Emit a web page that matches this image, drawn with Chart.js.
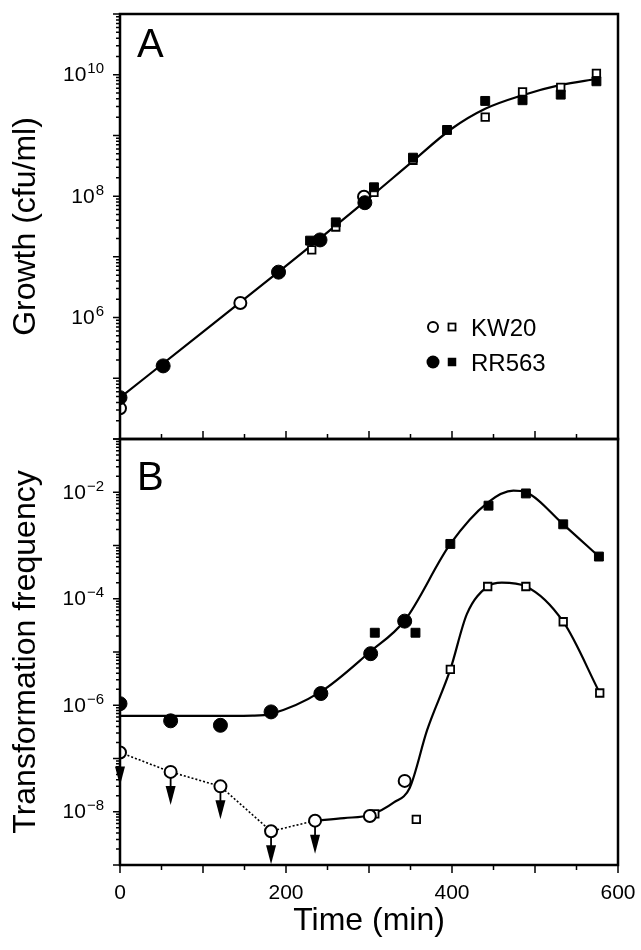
<!DOCTYPE html>
<html>
<head>
<meta charset="utf-8">
<script src="https://cdn.jsdelivr.net/npm/chart.js@4/dist/chart.umd.min.js"></script>
<style>
  body { margin: 0; background: #fff; }
  #wrap { position: relative; width: 641px; height: 950px; }
  canvas { position: absolute; left: 0; top: 0; }
</style>
</head>
<body>
<div id="wrap">
  <canvas id="panelB" width="641" height="950"></canvas>
  <canvas id="panelA" width="641" height="950"></canvas>
</div>
<script>
// ---- Panel A: growth (cfu/ml) vs time (min)
const growthKwCircleTime = [0, 145, 294];
const growthKwCircle = [3.2e4, 1.74e6, 9.8e7];
const growthRrCircleTime = [0, 52, 191, 241, 295];
const growthRrCircle = [4.8e4, 1.6e5, 5.6e6, 1.9e7, 7.8e7];
const growthKwSquareTime = [231, 260, 306, 353, 440, 485, 531, 574];
const growthKwSquare = [1.3e7, 3.1e7, 1.15e8, 3.9e8, 2.0e9, 5.2e9, 6.2e9, 1.05e10];
const growthRrSquareTime = [229, 260, 306, 353, 394, 440, 485, 531, 574];
const growthRrSquare = [1.85e7, 3.7e7, 1.4e8, 4.3e8, 1.23e9, 3.7e9, 3.8e9, 4.7e9, 7.8e9];
const growthFitTime = [0, 100, 200, 300, 350, 400, 440, 485, 531, 574];
const growthFit = [4.8e4, 5.8e5, 7.1e6, 9.3e7, 3.5e8, 1.3e9, 2.75e9, 4.6e9, 6.8e9, 8.5e9];

// ---- Panel B: transformation frequency vs time (min)
const freqKwLimitTime = [0, 61, 121, 182, 235];
const freqKwLimit = [1.3e-7, 5.6e-8, 3.0e-8, 4.3e-9, 6.8e-9];
const freqKwCircleTime = [301, 343];
const freqKwCircle = [8.3e-9, 3.8e-8];
const freqKwSquareTime = [307, 357, 398, 443, 489, 534, 578];
const freqKwSquare = [9.1e-9, 7.2e-9, 4.7e-6, 1.7e-4, 1.7e-4, 3.7e-5, 1.7e-6];
const freqRrCircleTime = [0, 61, 121, 182, 242, 302, 343];
const freqRrCircle = [1.07e-6, 5.1e-7, 4.2e-7, 7.5e-7, 1.66e-6, 9.3e-6, 3.8e-5];
const freqRrSquareTime = [307, 356, 398, 444, 489, 534, 577];
const freqRrSquare = [2.3e-5, 2.3e-5, 1.07e-3, 5.6e-3, 9.5e-3, 2.5e-3, 6.2e-4];
const freqRrFitTime = [0, 100, 160, 182, 242, 301, 343, 398, 443, 474, 489, 534, 577];
const freqRrFit = [6.3e-7, 6.3e-7, 6.4e-7, 6.9e-7, 1.8e-6, 1.0e-5, 3.9e-5, 1.07e-3, 6.4e-3, 1.07e-2, 1.0e-2, 2.5e-3, 6.2e-4];
const freqKwFitTime = [235, 270, 302, 330, 349, 370, 398, 418, 443, 460, 489, 534, 578];
const freqKwFit = [6.8e-9, 7.6e-9, 8.8e-9, 1.5e-8, 2.8e-8, 3.4e-7, 4.7e-6, 5.2e-5, 1.7e-4, 2.0e-4, 1.7e-4, 3.7e-5, 1.7e-6];

const timeTicks = [0, 200, 400, 600];
const growthExps = [6, 8, 10];
const freqExps = [-2, -4, -6, -8];
const legendLabels = ['KW20', 'RR563'];

const FONT = '"Liberation Sans", Arial, Helvetica, sans-serif';
Chart.defaults.font.family = FONT;
Chart.defaults.color = '#000';

function xy(ts, vs) {
  return ts.map((t, i) => ({ x: t, y: vs[i] }));
}

function markers(data, style, filled, radius, bw) {
  return {
    data: data,
    pointStyle: style,
    pointRadius: radius,
    pointHoverRadius: radius,
    pointBorderWidth: bw,
    pointBackgroundColor: filled ? '#000' : '#fff',
    pointBorderColor: '#000',
    showLine: false
  };
}

function curve(data, dash, width) {
  return {
    data: data,
    showLine: true,
    pointRadius: 0,
    pointHoverRadius: 0,
    borderColor: '#000',
    borderWidth: width,
    borderDash: dash,
    cubicInterpolationMode: dash.length ? 'default' : 'monotone',
    tension: 0,
    fill: false
  };
}

// frame, ticks, superscript labels, panel letter, arrows, legend
function panelPlugin(opts) {
  return {
    id: 'panel' + opts.letter,
    afterDatasetsDraw(chart) {
      const { ctx } = chart;
      ctx.save();
      ctx.fillStyle = '#000';
      ctx.strokeStyle = '#000';
      chart.data.datasets.forEach((ds, i) => {
        if (!ds.limitArrows) return;
        chart.getDatasetMeta(i).data.forEach(pt => {
          ctx.lineWidth = 1.8;
          ctx.beginPath();
          ctx.moveTo(pt.x, pt.y + 6);
          ctx.lineTo(pt.x, pt.y + 16);
          ctx.stroke();
          ctx.beginPath();
          ctx.moveTo(pt.x - 5, pt.y + 14);
          ctx.lineTo(pt.x + 5, pt.y + 14);
          ctx.lineTo(pt.x, pt.y + 33);
          ctx.closePath();
          ctx.fill();
        });
      });
      ctx.restore();
    },
    afterDraw(chart) {
      const { ctx, chartArea: a } = chart;
      const x = chart.scales.x, y = chart.scales.y;
      ctx.save();
      ctx.strokeStyle = '#000';
      ctx.fillStyle = '#000';
      ctx.lineWidth = 2.5;
      ctx.strokeRect(a.left, a.top, a.right - a.left, a.bottom - a.top);

      ctx.lineWidth = 1.5;
      ctx.beginPath();
      const lo = Math.round(Math.log10(y.min)), hi = Math.round(Math.log10(y.max));
      for (let d = lo; d <= hi; d++) {
        for (let m = 1; m <= 9; m++) {
          const v = m * Math.pow(10, d);
          if (v > y.max * 1.0001) break;
          const py = y.getPixelForValue(v);
          const len = m === 1 ? 7 : 4;
          ctx.moveTo(a.left, py);
          ctx.lineTo(a.left - len, py);
        }
      }
      for (let t = 0; t <= 600; t += 50) {
        const px = x.getPixelForValue(t);
        const len = t % 100 === 0 ? 8 : 5;
        ctx.moveTo(px, a.bottom);
        ctx.lineTo(px, a.bottom + opts.xTickDir * len);
      }
      ctx.stroke();

      ctx.textAlign = 'left';
      ctx.textBaseline = 'alphabetic';
      opts.exps.forEach(e => {
        const py = y.getPixelForValue(Math.pow(10, e));
        const sup = e < 0 ? '\u2212' + (-e) : String(e);
        ctx.font = '15px ' + FONT;
        const ws = ctx.measureText(sup).width;
        ctx.font = '21px ' + FONT;
        const wb = ctx.measureText('10').width;
        const right = a.left - 16;
        ctx.fillText('10', right - ws - wb - 1, py + 6.5);
        ctx.font = '15px ' + FONT;
        ctx.fillText(sup, right - ws, py - 1.5);
      });

      if (opts.timeLabels) {
        ctx.textAlign = 'center';
        ctx.font = '21px ' + FONT;
        timeTicks.forEach(t => ctx.fillText(String(t), x.getPixelForValue(t), a.bottom + 34));
        ctx.textAlign = 'left';
      }

      ctx.font = '40px ' + FONT;
      ctx.fillText(opts.letter, a.left + 17, a.top + opts.letterDy);

      if (opts.legend) {
        const cx = a.left + 313, sx = a.left + 332, tx = a.left + 351;
        [a.top + 313, a.top + 348].forEach((ly, k) => {
          const filled = k === 1;
          ctx.lineWidth = 2;
          ctx.beginPath();
          ctx.arc(cx, ly, filled ? 6.5 : 5, 0, Math.PI * 2);
          if (filled) ctx.fill(); else ctx.stroke();
          const s = filled ? 8.5 : 7;
          if (filled) ctx.fillRect(sx - s / 2, ly - s / 2, s, s);
          else { ctx.lineWidth = 1.8; ctx.strokeRect(sx - s / 2, ly - s / 2, s, s); }
          ctx.font = '24px ' + FONT;
          ctx.fillText(legendLabels[k], tx, ly + 8.5);
        });
      }
      ctx.restore();
    }
  };
}

const yBase = {
  type: 'logarithmic',
  grid: { display: false, drawTicks: false },
  border: { display: false },
  ticks: { display: false },
  afterFit(scale) { scale.width = 120; }
};

new Chart(document.getElementById('panelA'), {
  type: 'scatter',
  data: {
    datasets: [
      markers(xy(growthRrCircleTime, growthRrCircle), 'circle', true, 7, 1),
      markers(xy(growthKwCircleTime, growthKwCircle), 'circle', false, 6, 2),
      markers(xy(growthRrSquareTime, growthRrSquare), 'rect', true, 6.3, 1),
      markers(xy(growthKwSquareTime, growthKwSquare), 'rect', false, 5.3, 1.8),
      curve(xy(growthFitTime, growthFit), [], 2.2)
    ]
  },
  options: {
    responsive: false,
    animation: false,
    layout: { autoPadding: false, padding: { top: 14, right: 23, bottom: 511, left: 0 } },
    plugins: { legend: { display: false }, tooltip: { enabled: false } },
    scales: {
      x: { type: 'linear', min: 0, max: 600, display: false },
      y: Object.assign({}, yBase, {
        min: 1e4, max: 1e11,
        title: { display: true, text: 'Growth (cfu/ml)', font: { size: 32 }, padding: { top: 7, bottom: 0 } }
      })
    }
  },
  plugins: [panelPlugin({ letter: 'A', letterDy: 43, exps: growthExps, xTickDir: -1, legend: true, timeLabels: false })]
});

new Chart(document.getElementById('panelB'), {
  type: 'scatter',
  data: {
    datasets: [
      markers(xy(freqRrCircleTime, freqRrCircle), 'circle', true, 7, 1),
      markers(xy(freqRrSquareTime, freqRrSquare), 'rect', true, 6.3, 1),
      markers(xy(freqKwCircleTime, freqKwCircle), 'circle', false, 6, 2),
      Object.assign(markers(xy(freqKwLimitTime, freqKwLimit), 'circle', false, 6, 2), { limitArrows: true }),
      markers(xy(freqKwSquareTime, freqKwSquare), 'rect', false, 5.3, 1.8),
      curve(xy(freqRrFitTime, freqRrFit), [], 2.2),
      curve(xy(freqKwFitTime, freqKwFit), [], 2.2),
      curve(xy(freqKwLimitTime, freqKwLimit), [2, 2], 1.6)
    ]
  },
  options: {
    responsive: false,
    animation: false,
    layout: { autoPadding: false, padding: { top: 439, right: 23, bottom: 0, left: 0 } },
    plugins: { legend: { display: false }, tooltip: { enabled: false } },
    scales: {
      x: {
        type: 'linear', min: 0, max: 600,
        grid: { display: false, drawTicks: false },
        border: { display: false },
        ticks: { display: false },
        title: { display: true, text: 'Time (min)', font: { size: 32 }, padding: { top: 0, bottom: 10 } },
        afterFit(scale) { scale.height = 85; }
      },
      y: Object.assign({}, yBase, {
        min: 1e-9, max: 1e-1,
        title: { display: true, text: 'Transformation frequency', font: { size: 32 }, padding: { top: 7, bottom: 0 } }
      })
    }
  },
  plugins: [panelPlugin({ letter: 'B', letterDy: 51, exps: freqExps, xTickDir: 1, legend: false, timeLabels: true })]
});
</script>
</body>
</html>
